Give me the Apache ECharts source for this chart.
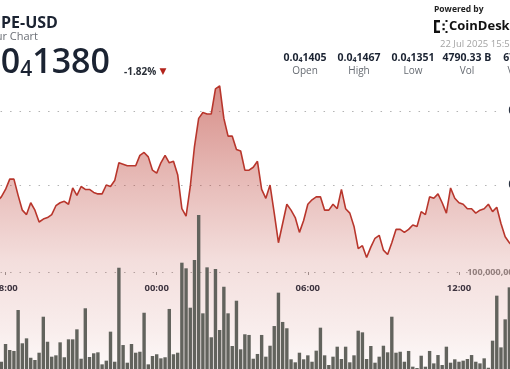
<!DOCTYPE html>
<html><head><meta charset="utf-8">
<script src="https://cdn.jsdelivr.net/npm/echarts@6/dist/echarts.min.js"></script>
<style>
html,body{margin:0;padding:0;background:#fff;overflow:hidden;width:510px;height:369px;}
#chart{position:absolute;left:-55px;top:0;width:620px;height:369px;}
</style></head><body><div id="chart"></div>
<script>
// 10-minute candles, 21 Jul 16:00 -> 22 Jul 15:50
const times = [
 '16:00','16:10','16:20','16:30','16:40','16:50','17:00','17:10','17:20','17:30','17:40','17:50',
 '18:00','18:10','18:20','18:30','18:40','18:50','19:00','19:10','19:20','19:30','19:40','19:50',
 '20:00','20:10','20:20','20:30','20:40','20:50','21:00','21:10','21:20','21:30','21:40','21:50',
 '22:00','22:10','22:20','22:30','22:40','22:50','23:00','23:10','23:20','23:30','23:40','23:50',
 '00:00','00:10','00:20','00:30','00:40','00:50','01:00','01:10','01:20','01:30','01:40','01:50',
 '02:00','02:10','02:20','02:30','02:40','02:50','03:00','03:10','03:20','03:30','03:40','03:50',
 '04:00','04:10','04:20','04:30','04:40','04:50','05:00','05:10','05:20','05:30','05:40','05:50',
 '06:00','06:10','06:20','06:30','06:40','06:50','07:00','07:10','07:20','07:30','07:40','07:50',
 '08:00','08:10','08:20','08:30','08:40','08:50','09:00','09:10','09:20','09:30','09:40','09:50',
 '10:00','10:10','10:20','10:30','10:40','10:50','11:00','11:10','11:20','11:30','11:40','11:50',
 '12:00','12:10','12:20','12:30','12:40','12:50','13:00','13:10','13:20','13:30','13:40','13:50',
 '14:00','14:10','14:20','14:30','14:40','14:50','15:00','15:10','15:20','15:30','15:40','15:50'
];
// price in units of 1e-8 USD (0.0₄1405 = 0.00001405)
const prices = [
 1405,1402,1398,1400,1396,1392,1394,1390,1386,1388,1389,1392,
 1397,1404,1404,1393,1383,1380,1388,1383,1375,1377,1378,1380,
 1386,1388,1389,1387,1398,1393,1399,1397,1397,1395,1394,1394,
 1400,1399,1403,1415,1414,1413,1413,1413,1420,1422,1419,1410,
 1408,1415,1420,1415,1416,1407,1384,1379,1399,1426,1445,1449,
 1448,1448,1465,1467,1445,1433,1433,1424,1423,1410,1410,1412,
 1416,1397,1391,1400,1381,1361,1374,1387,1383,1378,1368,1376,
 1387,1390,1392,1392,1383,1383,1387,1384,1397,1384,1381,1372,
 1357,1359,1351,1358,1364,1366,1356,1353,1361,1370,1370,1368,
 1370,1373,1372,1382,1380,1392,1391,1394,1388,1381,1398,1391,
 1388,1387,1384,1384,1381,1383,1384,1387,1382,1385,1374,1365,
 1361,1358,1362,1366,1364,1370,1372,1368,1374,1377,1375,1380
];
// volume in billions of PEPE
const volumes = [
 22,15,30,18,12,25,20,14,35,28,71,7.5,
 25.8,19.6,18.6,60.8,26.5,31.6,11.6,9.3,16.8,53.9,28.1,12.7,
 14.1,27.5,12.1,30.6,30.6,40.9,10.6,62.6,12.4,16.2,17.2,4.8,
 8.6,38.5,7.5,104.4,24.7,6.5,25.8,16.8,17.8,58,4.8,13.4,
 15.2,11,12.1,61.9,15.2,16.8,109.6,103.8,63.2,112.4,158.8,57.4,
 104.8,32.7,103.1,40.2,84.8,57.4,23.7,70.4,20.3,35.8,35.1,10.6,
 15.5,35.1,12.7,24,44.3,78.7,48.5,42,10,6.9,16.8,10,
 14.1,7.5,18.9,42.6,14.1,4.1,12.7,23,10.3,23,6.9,14.1,
 39.5,37.8,10.3,23.7,6.5,12.7,24,17.2,53.9,16.8,17.8,7.5,
 18.6,2.4,1,13.7,2.4,18.6,5.8,14.4,4.1,23,6.5,10,
 7.5,8.6,10.3,14.4,7.5,5.8,11,1.3,29.2,75.6,22.3,51.2,
 84.2,60,45,38,30,25,40,22,18,30,26,20
];
const statValues = ['0.0{s|4}1405','0.0{s|4}1467','0.0{s|4}1351','4790.33 B','67.07 M'];
const statLabels = ['Open','High','Low','Vol','Vol (USD)'];
const FONT = '"Open Sans", "Noto Sans", sans-serif';
const DARK = '#1b2332';

const chart = echarts.init(document.getElementById('chart'), null, {renderer:'canvas'});
const labelInterval = (idx, val) => val.slice(3) === '00' && (parseInt(val.slice(0,2),10) % 6 === 0);

const statX = [360, 414, 468, 522, 578];
const statLabelX = [360, 414, 468, 522, 584];
const graphics = [
  {type:'text', x:37, y:23, style:{text:'PEPE-USD', fontFamily:FONT, fontSize:16, fontWeight:'bold', fill:DARK, verticalAlign:'middle'}},
  {type:'text', x:36, y:37, style:{text:'Hour Chart', fontFamily:FONT, fontSize:11, fill:'#6b6f76', verticalAlign:'middle'}},
  {type:'text', x:27, y:63.5, style:{text:'{a|0.0}{s|4}{a|1380}', fontFamily:FONT, fill:DARK, verticalAlign:'middle',
     rich:{a:{fontSize:34, fontWeight:600, fontFamily:FONT, fill:DARK}, s:{fontSize:21, fontWeight:600, fontFamily:FONT, fill:DARK, verticalAlign:'bottom'}}}},
  {type:'text', x:179, y:72, style:{text:'-1.82%', fontFamily:FONT, fontSize:10, fontWeight:'bold', fill:'#2a2f38', verticalAlign:'middle'}},
  {type:'text', x:218, y:72, style:{text:'▼', fontFamily:'DejaVu Sans', fontSize:9, fill:'#b3231b', align:'center', verticalAlign:'middle'}},
  {type:'text', x:489, y:10, style:{text:'Powered by', fontFamily:FONT, fontSize:8.5, fontWeight:'bold', fill:'#222', verticalAlign:'middle'}},
  {type:'rect', shape:{x:489, y:20, width:2.4, height:13}, style:{fill:'#111'}},
  {type:'rect', shape:{x:489, y:20, width:6, height:2.4}, style:{fill:'#111'}},
  {type:'rect', shape:{x:489, y:30.6, width:6, height:2.4}, style:{fill:'#111'}},
  {type:'rect', shape:{x:497.5, y:23.5, width:2.2, height:2.2}, style:{fill:'#111'}},
  {type:'rect', shape:{x:497.5, y:28, width:2.2, height:2.2}, style:{fill:'#111'}},
  {type:'rect', shape:{x:500.5, y:20, width:2, height:2}, style:{fill:'#111'}},
  {type:'rect', shape:{x:500.5, y:31, width:2, height:2}, style:{fill:'#111'}},
  {type:'text', x:504, y:26.5, style:{text:'CoinDesk', fontFamily:FONT, fontSize:13, fontWeight:'bold', fill:'#111', verticalAlign:'middle'}},
  {type:'text', x:495, y:44, style:{text:'22 Jul 2025 15:55', fontFamily:FONT, fontSize:9.5, fill:'#a3a3a3', verticalAlign:'middle'}}
];
statValues.forEach((v, i) => {
  graphics.push({type:'text', x:statX[i], y:58, style:{text:v, fontFamily:FONT, fontSize:10.5, fontWeight:'bold', fill:DARK, align:'center', verticalAlign:'middle',
    rich:{s:{fontSize:7, fontWeight:'bold', fontFamily:FONT, fill:DARK, verticalAlign:'bottom'}}}});
  graphics.push({type:'text', x:statLabelX[i], y:71, style:{text:statLabels[i], fontFamily:FONT, fontSize:10, fill:'#666b72', align:'center', verticalAlign:'middle'}});
});

const option = {
  animation:false,
  backgroundColor:'#fff',
  grid:[
    {left:8.05, right:7.35, top:37, bottom:110},
    {left:8.05, right:7.35, top:175, bottom:0}
  ],
  xAxis:[
    {type:'category', gridIndex:0, data:times, boundaryGap:true, offset:13,
     axisLine:{show:false},
     axisTick:{show:true, alignWithLabel:true, interval:labelInterval, length:3, lineStyle:{color:'#9a9a9a'}},
     axisLabel:{interval:labelInterval, color:'#2a3342', fontWeight:'bold', fontSize:9.5, fontFamily:FONT, margin:11},
     splitLine:{show:false}},
    {type:'category', gridIndex:1, data:times, boundaryGap:true, show:false}
  ],
  yAxis:[
    {type:'value', gridIndex:0, position:'right', min:1350, max:1500, interval:50,
     axisLine:{show:false}, axisTick:{show:false},
     splitLine:{show:true, showMinLine:false, showMaxLine:false, lineStyle:{color:'#b3b3b3', width:1, type:[1.5,8]}},
     axisLabel:{inside:true, margin:8, showMinLabel:false, showMaxLabel:false,
       formatter:(v)=>'0.0{s|4}'+v, color:'#2a3342', fontSize:10, fontWeight:'bold', fontFamily:FONT,
       backgroundColor:'#fff', padding:[2,0,2,5],
       rich:{s:{fontSize:7, fontWeight:'bold', fontFamily:FONT, color:'#2a3342', verticalAlign:'bottom'}}}},
    {type:'value', gridIndex:1, position:'right', min:0, max:200, interval:100,
     axisLine:{show:false}, axisTick:{show:false},
     splitLine:{show:true, showMinLine:false, showMaxLine:false, lineStyle:{color:'#b3b3b3', width:1, type:[1.5,8]}},
     axisLabel:{inside:true, margin:21, showMinLabel:false, showMaxLabel:false,
       formatter:(v)=>(v*1e9).toLocaleString('en-US'), color:'#8c8c8c', fontSize:9, fontWeight:'bold', fontFamily:FONT}}
  ],
  series:[
    {type:'line', xAxisIndex:0, yAxisIndex:0, data:prices, symbol:'none', clip:false, z:2,
     lineStyle:{color:'#b8362c', width:1.6},
     areaStyle:{origin:1270, color:new echarts.graphic.LinearGradient(0,0,0,1,[
       {offset:0, color:'rgba(185,58,48,0.82)'},
       {offset:0.34, color:'rgba(185,58,48,0.48)'},
       {offset:0.6, color:'rgba(185,58,48,0.24)'},
       {offset:0.84, color:'rgba(185,58,48,0.13)'},
       {offset:1, color:'rgba(185,58,48,0.02)'}])}},
    {type:'bar', xAxisIndex:1, yAxisIndex:1, data:volumes, barWidth:3.4, z:3,
     itemStyle:{color:'#62635d'}}
  ],
  graphic:graphics
};
chart.setOption(option);
</script>
</body></html>
